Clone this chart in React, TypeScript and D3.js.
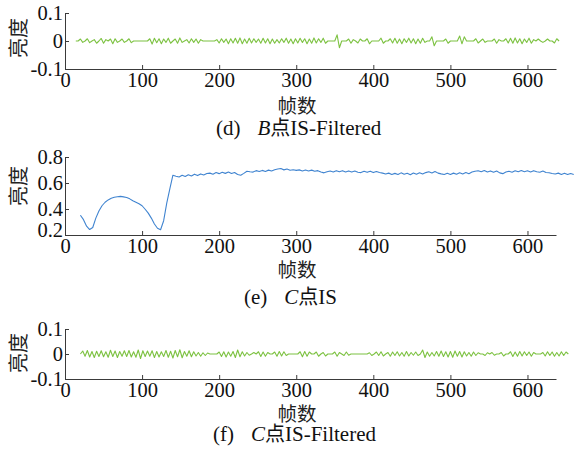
import { useEffect, useRef } from 'react';
import * as d3 from 'd3';

// shared frame axis
const frameTicks = [0, 100, 200, 300, 400, 500, 600];
const filteredTicks = [-0.1, 0, 0.1];
const isTicks = [0.2, 0.4, 0.6, 0.8];

// (d) B点 IS-Filtered — values in units of 0.001, one sample every 3 frames from frame 14
const bFilteredStart = 14;
const bFilteredStep = 3;
const bFiltered = [
  0, 0, 7, -5, 0, 8, -6, 0, 5, -8,
  0, 9, -8, 5, 0, 7, -10, 8, -5, 0,
  7, -5, 0, 8, -6, 0, 0, 0, 0, 0,
  0, 0, 8, -11, 10, -6, 8, -10, 7, -5,
  10, -8, 0, 7, -8, 11, -5, 0, 5, -7,
  8, -5, 7, -8, 5, 0, 0, 0, 0, 0,
  0, 5, -7, 8, -5, 7, -10, 8, -7, 10,
  -8, 11, -10, 7, -8, 10, -7, 8, -5, 7,
  -8, 10, -7, 8, -10, 7, -8, 5, -7, 8,
  -5, 10, -8, 7, -10, 8, -7, 10, -5, 8,
  -10, 7, -8, 11, -7, 8, -5, 10, -8, 0,
  0, 0, 0, 22, -24, 0, 0, 0, 7, -8,
  5, 0, -7, 7, 0, 0, 8, -10, 0, 0,
  0, 0, 10, -8, 0, 0, 8, -7, 10, -8,
  7, -10, 8, -5, 10, -7, 8, -10, 7, -8,
  10, -5, 0, 0, 15, -17, 0, 0, 0, 0,
  7, -8, 0, 0, 0, 0, 18, -10, 15, 0,
  0, 0, 0, 8, -7, 0, 7, -5, 0, 0,
  0, 7, -8, 5, 0, 0, 8, -7, 10, -8,
  11, -7, 8, -10, 7, -5, 10, -8, 5, 0,
  7, 0, -5, 0, 7, 0, 0, -7, 8, 0,
];

// (e) C点 IS — one sample every 4 frames from frame 20
const cIsStart = 20;
const cIsStep = 4;
const cIs = [
  0.352, 0.318, 0.268, 0.242, 0.258, 0.330, 0.385, 0.425, 0.452, 0.470,
  0.483, 0.490, 0.494, 0.497, 0.493, 0.489, 0.478, 0.463, 0.452, 0.441,
  0.425, 0.398, 0.368, 0.330, 0.285, 0.252, 0.240, 0.310, 0.445, 0.555,
  0.660, 0.652, 0.646, 0.660, 0.650, 0.664, 0.654, 0.668, 0.657, 0.670,
  0.662, 0.673, 0.676, 0.668, 0.680, 0.672, 0.682, 0.674, 0.684, 0.673,
  0.681, 0.666, 0.660, 0.674, 0.690, 0.686, 0.684, 0.695, 0.688, 0.697,
  0.689, 0.699, 0.692, 0.702, 0.708, 0.711, 0.701, 0.707, 0.698, 0.702,
  0.697, 0.701, 0.693, 0.700, 0.692, 0.699, 0.690, 0.695, 0.684, 0.678,
  0.687, 0.692, 0.685, 0.695, 0.687, 0.695, 0.685, 0.693, 0.684, 0.692,
  0.683, 0.680, 0.690, 0.682, 0.691, 0.680, 0.689, 0.681, 0.676, 0.669,
  0.676, 0.666, 0.674, 0.665, 0.678, 0.667, 0.675, 0.664, 0.677, 0.668,
  0.678, 0.669, 0.680, 0.686, 0.677, 0.689, 0.676, 0.670, 0.665, 0.675,
  0.666, 0.676, 0.667, 0.678, 0.669, 0.680, 0.671, 0.684, 0.690, 0.694,
  0.686, 0.696, 0.685, 0.693, 0.683, 0.692, 0.678, 0.672, 0.684, 0.690,
  0.683, 0.694, 0.686, 0.696, 0.687, 0.694, 0.685, 0.695, 0.686, 0.683,
  0.692, 0.681, 0.679, 0.673, 0.669, 0.676, 0.666, 0.675, 0.665, 0.673,
  0.666,
];

// (f) C点 IS-Filtered — values in units of 0.001, one sample every 3 frames from frame 20
const cFilteredStart = 20;
const cFilteredStep = 3;
const cFiltered = [
  0, 12, -9, 14, -12, 10, -14, 11, -10, 13,
  -11, 9, -13, 15, -10, 12, -14, 10, -9, 13,
  -10, 14, -12, 9, -13, 16, -18, 13, -10, 12,
  -9, 13, -14, 10, -12, 9, -10, 14, -13, 11,
  -16, 14, -11, 17, -15, 10, -9, 13, -11, 9,
  -8, 6, -9, 5, -6, 4, 0, 0, 0, 0,
  8, -10, 9, -12, 8, -9, 10, -14, 16, -11,
  9, -8, 6, -5, 0, 6, 0, 9, -10, 8,
  -9, 6, 0, 0, 8, -9, 10, -8, 9, -6,
  0, 0, 0, 0, 0, 9, -11, 10, -9, 8,
  0, 0, 8, -9, 0, 6, -8, 0, 0, 0,
  8, -9, 6, 0, -6, 8, -5, 0, 0, 0,
  0, 0, 0, 0, 0, 5, -6, 0, 8, -6,
  9, -8, 0, 6, -9, 8, -6, 9, -8, 6,
  -9, 10, -8, 6, -5, 8, -6, 0, 16, -14,
  8, -9, 6, -8, 10, -9, 12, -10, 9, -12,
  10, -13, 12, -9, 10, -12, 9, -8, 6, -9,
  8, -6, 5, 0, 0, -6, 5, 0, 6, -5,
  0, 0, 6, -8, 0, 0, 9, -10, 8, -9,
  10, -8, 9, -6, 8, -9, 6, 0, 0, 0,
  6, -8, 9, -6, 8, -9, 6, -8, 9, -6,
  8, 0,
];

const green = '#7dc242';
const blue = '#4084d0';
const axisColor = '#3a3a3a';
const serif = '"Liberation Serif", "Times New Roman", serif';
const cjk = '"Noto Sans CJK SC", sans-serif';

const panels = [
  {
    values: bFiltered, start: bFilteredStart, step: bFilteredStep, unit: 0.001,
    domain: [-0.1, 0.1], ticks: filteredTicks, top: 13, bottom: 69, color: green,
    yLabelY: 38, xLabelY: 106, captionY: 128, tag: '(d)', point: 'B', suffix: '点IS-Filtered', captionX: 216,
  },
  {
    values: cIs, start: cIsStart, step: cIsStep, unit: 1,
    domain: [0.2, 0.8], ticks: isTicks, top: 157, bottom: 235, color: blue,
    yLabelY: 186, xLabelY: 270, captionY: 297, tag: '(e)', point: 'C', suffix: '点IS', captionX: 244,
  },
  {
    values: cFiltered, start: cFilteredStart, step: cFilteredStep, unit: 0.001,
    domain: [-0.1, 0.1], ticks: filteredTicks, top: 329, bottom: 379, color: green,
    yLabelY: 353, xLabelY: 414, captionY: 434, tag: '(f)', point: 'C', suffix: '点IS-Filtered', captionX: 213,
  },
];

const App = () => {
  const svgRef = useRef<SVGSVGElement>(null);

  useEffect(() => {
    const root = d3.select(svgRef.current);
    root.selectAll('*').remove();

    const x = d3.scaleLinear().domain([0, 637]).range([65, 556]);

    panels.forEach((p) => {
      const g = root.append('g');
      const y = d3.scaleLinear().domain(p.domain).range([p.bottom, p.top]);

      const line = d3.line<number>()
        .x((d, i) => x(p.start + p.step * i))
        .y(d => y(d * p.unit));

      g.append('path')
        .datum(p.values)
        .attr('d', line)
        .attr('fill', 'none')
        .attr('stroke', p.color)
        .attr('stroke-width', 1.1)
        .attr('stroke-linejoin', 'round');

      const xAxis = g.append('g')
        .attr('transform', `translate(0,${p.bottom})`)
        .call(d3.axisBottom(x).tickValues(frameTicks).tickSize(-4).tickSizeOuter(0).tickPadding(3).tickFormat(d3.format('d')));

      const yAxis = g.append('g')
        .attr('transform', 'translate(65,0)')
        .call(d3.axisLeft(y).tickValues(p.ticks).tickSize(-4).tickSizeOuter(0).tickPadding(2).tickFormat(d => String(d)));

      [xAxis, yAxis].forEach(a => {
        a.attr('font-family', serif).attr('font-size', 20.5);
        a.selectAll('path, line').attr('stroke', axisColor);
        a.selectAll('text').attr('fill', '#111');
      });

      // lowest label of the IS panel sits a little above the axis corner
      if (p.unit === 1) {
        yAxis.selectAll<SVGTextElement, number>('text')
          .filter(d => d === p.domain[0])
          .attr('dy', '0.05em');
      }

      g.append('text')
        .attr('transform', `translate(19,${p.yLabelY}) rotate(-90)`)
        .attr('text-anchor', 'middle')
        .attr('dy', '0.35em')
        .attr('font-family', cjk)
        .attr('font-size', 20)
        .attr('fill', '#222')
        .text('亮度');

      g.append('text')
        .attr('x', 297)
        .attr('y', p.xLabelY)
        .attr('text-anchor', 'middle')
        .attr('dy', '0.35em')
        .attr('font-family', cjk)
        .attr('font-size', 19.5)
        .attr('fill', '#222')
        .text('帧数');

      const cap = g.append('text')
        .attr('x', p.captionX)
        .attr('y', p.captionY)
        .attr('dy', '0.35em')
        .attr('font-family', serif)
        .attr('font-size', 21)
        .attr('fill', '#111');
      cap.append('tspan').text(p.tag);
      cap.append('tspan').attr('dx', 17).attr('font-style', 'italic').text(p.point);
      cap.append('tspan').attr('font-family', cjk).attr('font-size', 20).text(p.suffix.slice(0, 1));
      cap.append('tspan').text(p.suffix.slice(1));
    });
  }, []);

  return (
    <svg
      ref={svgRef}
      width={574}
      height={450}
      style={{ position: 'absolute', left: 0, top: 0, background: '#fff' }}
    />
  );
};

export default App;
